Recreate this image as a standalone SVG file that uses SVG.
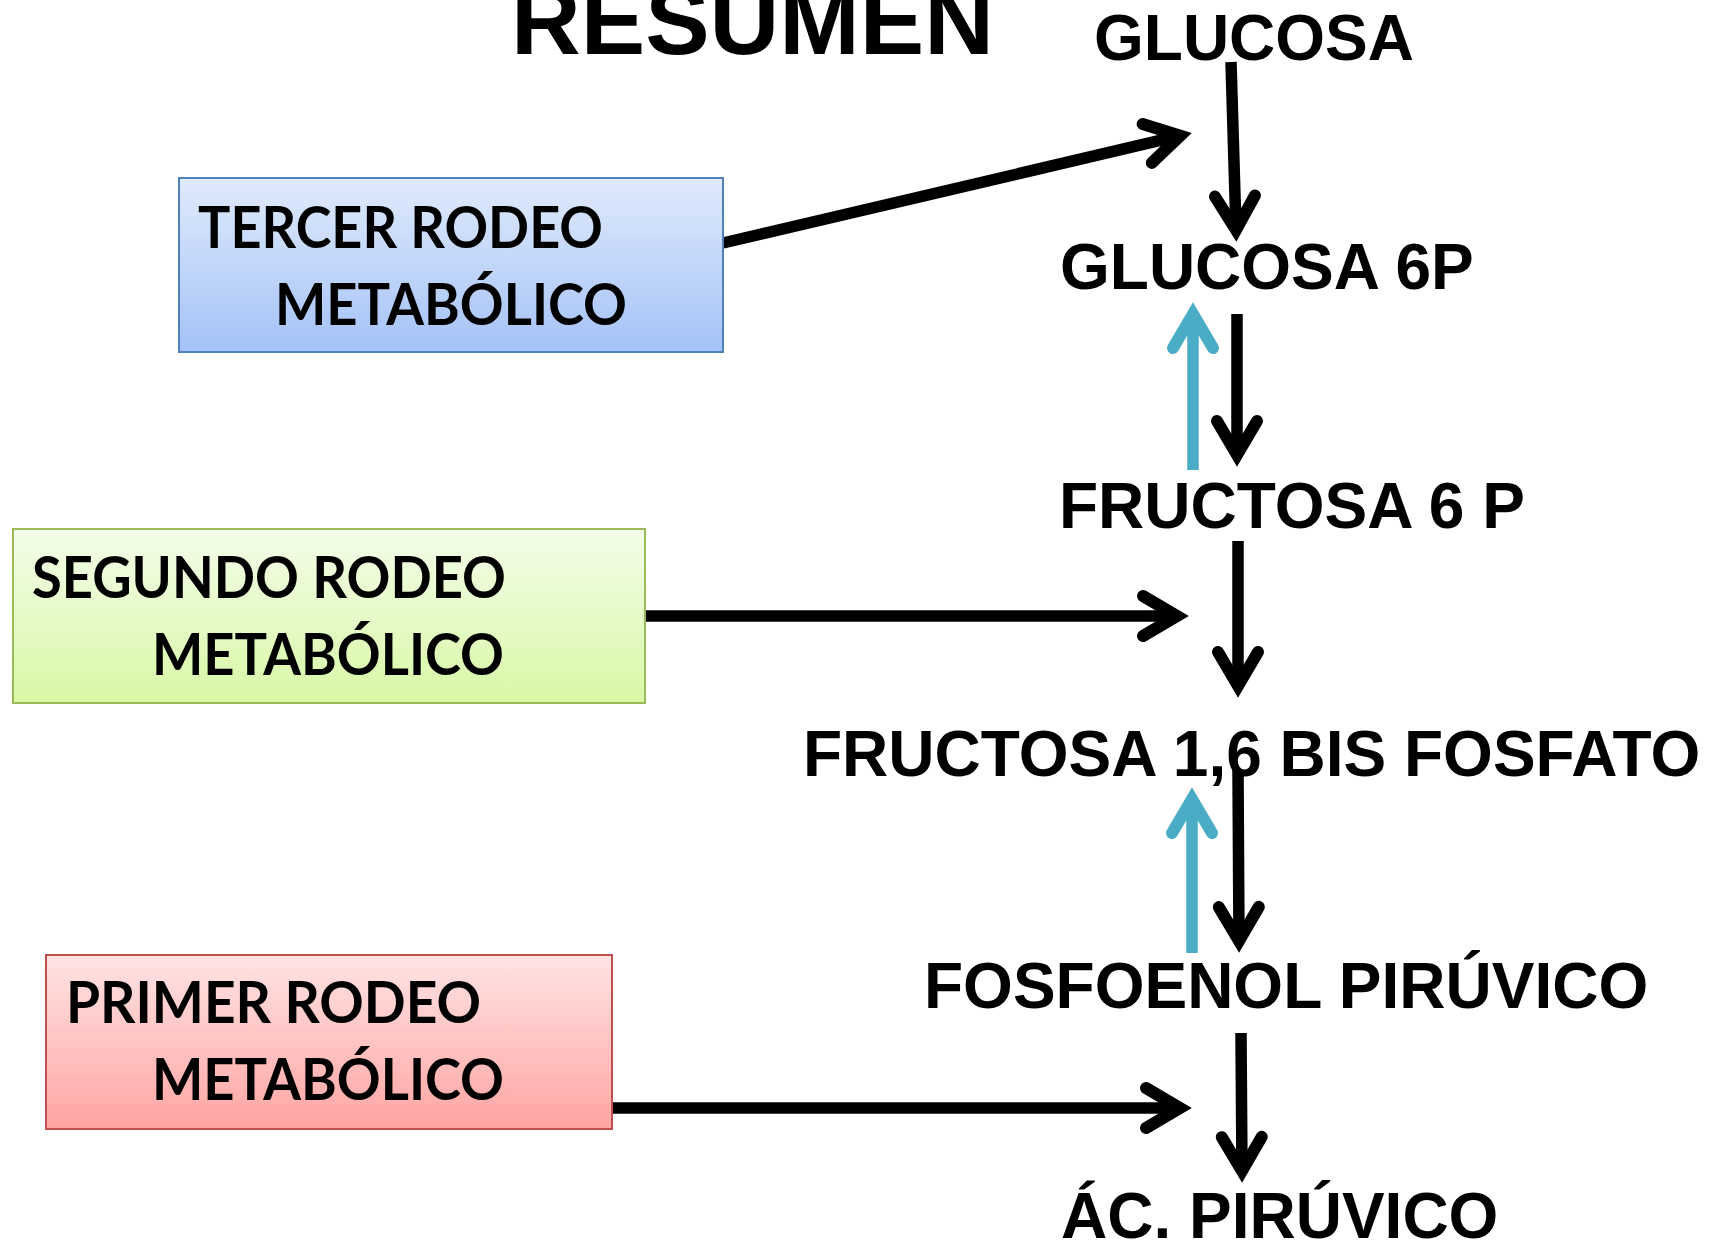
<svg xmlns="http://www.w3.org/2000/svg" width="1722" height="1242" viewBox="0 0 1722 1242">
<defs>
<linearGradient id="gBlue" x1="0" y1="0" x2="0" y2="1"><stop offset="0" stop-color="#e0eafc"/><stop offset="1" stop-color="#a4c2f7"/></linearGradient>
<linearGradient id="gGreen" x1="0" y1="0" x2="0" y2="1"><stop offset="0" stop-color="#f3fde9"/><stop offset="1" stop-color="#d8f8a6"/></linearGradient>
<linearGradient id="gRed" x1="0" y1="0" x2="0" y2="1"><stop offset="0" stop-color="#ffe3e3"/><stop offset="1" stop-color="#ffa5a3"/></linearGradient>
<marker id="ahBlack" markerUnits="userSpaceOnUse" markerWidth="90" markerHeight="90" viewBox="-45 -45 90 90" refX="0" refY="0" orient="auto" overflow="visible">
<path d="M -34,-20 L 0,0 L -34,20" fill="none" stroke="#000" stroke-width="12" stroke-linecap="round" stroke-linejoin="miter" stroke-miterlimit="10"/>
</marker>
<marker id="ahBlue" markerUnits="userSpaceOnUse" markerWidth="90" markerHeight="90" viewBox="-45 -45 90 90" refX="0" refY="0" orient="auto" overflow="visible">
<path d="M -34,-20 L 0,0 L -34,20" fill="none" stroke="#4bacc6" stroke-width="12" stroke-linecap="round" stroke-linejoin="miter" stroke-miterlimit="10"/>
</marker>
</defs>
<style>
.t{font-family:"Liberation Sans",Arial,sans-serif;font-weight:bold;font-size:64px;fill:#000}
.b{font-family:Lato,"Open Sans",sans-serif;font-weight:bold;font-size:58px;fill:#000}
.c{fill:none;stroke:#000;stroke-width:11.5;marker-end:url(#ahBlack)}
.u{fill:none;stroke:#4bacc6;stroke-width:11.5;marker-end:url(#ahBlue)}
</style>
<rect width="1722" height="1242" fill="#fff"/>
<g id="title"><text class="t" x="511" y="54" style="font-size:96px" textLength="483" lengthAdjust="spacingAndGlyphs">RESUMEN</text></g>
<g id="connectors">
<line class="c" x1="1231" y1="62" x2="1236" y2="230"/>
<line class="c" x1="723" y1="243" x2="1180.3" y2="135.7"/>
<line class="c" x1="1237" y1="314" x2="1237" y2="455"/>
<line class="u" x1="1193" y1="470" x2="1193" y2="314"/>
<line class="c" x1="1238" y1="541" x2="1238" y2="686"/>
<line class="c" x1="645" y1="616" x2="1177" y2="616"/>
<line class="c" x1="1238" y1="770" x2="1239" y2="941"/>
<line class="u" x1="1192" y1="953" x2="1192" y2="799"/>
<line class="c" x1="1241" y1="1033" x2="1242" y2="1171"/>
<line class="c" x1="612" y1="1108" x2="1180" y2="1108"/>
</g>
<g id="glucosa"><text class="t" x="1094" y="60">GLUCOSA</text></g>
<g id="glucosa6p"><text class="t" x="1060" y="289">GLUCOSA 6P</text></g>
<g id="fructosa6p"><text class="t" x="1059" y="528">FRUCTOSA 6 P</text></g>
<g id="fructosa16bp"><text class="t" x="803" y="776">FRUCTOSA 1,6 BIS FOSFATO</text></g>
<g id="fosfoenol"><text class="t" x="924" y="1008">FOSFOENOL PIRÚVICO</text></g>
<g id="piruvico"><text class="t" x="1061" y="1238">ÁC. PIRÚVICO</text></g>
<g id="tercer">
<rect x="179" y="178" width="544" height="174" fill="url(#gBlue)" stroke="#4f81bd" stroke-width="2"/>
<text class="b" x="198" y="248" textLength="405" lengthAdjust="spacingAndGlyphs">TERCER RODEO</text>
<text class="b" x="275" y="325" textLength="352" lengthAdjust="spacingAndGlyphs">METABÓLICO</text>
</g>
<g id="segundo">
<rect x="13" y="529" width="632" height="174" fill="url(#gGreen)" stroke="#9bbb59" stroke-width="2"/>
<text class="b" x="32" y="598" textLength="474" lengthAdjust="spacingAndGlyphs">SEGUNDO RODEO</text>
<text class="b" x="152" y="675" textLength="352" lengthAdjust="spacingAndGlyphs">METABÓLICO</text>
</g>
<g id="primer">
<rect x="46" y="955" width="566" height="174" fill="url(#gRed)" stroke="#c0504d" stroke-width="2"/>
<text class="b" x="66" y="1023" textLength="415" lengthAdjust="spacingAndGlyphs">PRIMER RODEO</text>
<text class="b" x="152" y="1100" textLength="352" lengthAdjust="spacingAndGlyphs">METABÓLICO</text>
</g>
</svg>
